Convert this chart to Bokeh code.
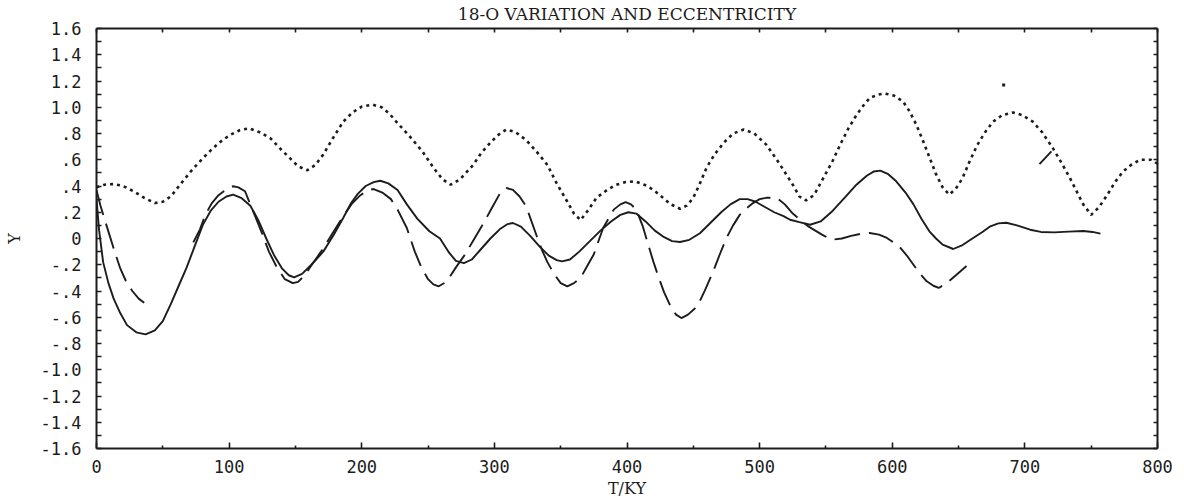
from bokeh.plotting import figure
from bokeh.models import LinearAxis, FixedTicker, Range1d
from bokeh.embed import file_html
from bokeh.resources import INLINE

NAN = float("nan")

title_text = "18-O VARIATION AND ECCENTRICITY"
x_title = "T/KY"
y_title = "Y"

x_tick_values = [0, 100, 200, 300, 400, 500, 600, 700, 800]
x_tick_labels = ["0", "100", "200", "300", "400", "500", "600", "700", "800"]
x_minor_values = [50, 150, 250, 350, 450, 550, 650, 750]
x_all_ticks = [0, 50, 100, 150, 200, 250, 300, 350, 400, 450, 500, 550, 600, 650, 700, 750, 800]

y_tick_values = [-1.6, -1.4, -1.2, -1.0, -0.8, -0.6, -0.4, -0.2, 0.0,
                 0.2, 0.4, 0.6, 0.8, 1.0, 1.2, 1.4, 1.6]
y_tick_labels = ["-1.6", "-1.4", "-1.2", "-1.0", "-.8", "-.6", "-.4", "-.2", "0",
                 ".2", ".4", ".6", ".8", "1.0", "1.2", "1.4", "1.6"]
y_minor_values = [-1.5, -1.3, -1.1, -0.9, -0.7, -0.5, -0.3, -0.1,
                  0.1, 0.3, 0.5, 0.7, 0.9, 1.1, 1.3, 1.5]
y_all_ticks = sorted(y_tick_values + y_minor_values)

# dotted series
dotted_t = [0, 6, 13, 20, 28, 36, 44, 50, 56, 63, 71, 80, 88, 95, 101, 108, 115, 123, 131, 139,
            146, 152, 159, 165, 171, 178, 186, 193, 200, 208, 215, 221, 226, 236, 246, 254, 261,
            267, 274, 284, 290, 297, 303, 309, 316, 324, 332, 340, 347, 355, 360, 365, 371, 377,
            385, 392, 399, 406, 413, 420, 426, 433, 440, 445, 450, 455, 460, 466, 473, 480, 488,
            496, 505, 513, 520, 525, 530, 535, 541, 548, 555, 561, 567, 573, 578, 583, 589, 594,
            601, 608, 613, 618, 623, 628, 633, 638, 643, 648, 653, 658, 664, 670, 676, 683, 691,
            698, 706, 713, 721, 728, 734, 739, 744, 750, 756, 762, 768, 774, 780, 787, 795, 800]
dotted_y = [0.39, 0.41, 0.415, 0.40, 0.36, 0.31, 0.27, 0.28, 0.32, 0.41, 0.51, 0.61, 0.69, 0.75,
            0.79, 0.825, 0.84, 0.81, 0.765, 0.68, 0.61, 0.55, 0.52, 0.56, 0.64, 0.76, 0.89, 0.96,
            1.005, 1.02, 1.0, 0.95, 0.89, 0.78, 0.66, 0.54, 0.45, 0.41, 0.45, 0.56, 0.65, 0.73,
            0.79, 0.83, 0.81, 0.75, 0.66, 0.56, 0.42, 0.28, 0.19, 0.14, 0.22, 0.31, 0.37, 0.41,
            0.43, 0.436, 0.41, 0.37, 0.32, 0.26, 0.227, 0.25, 0.31, 0.42, 0.54, 0.64, 0.73, 0.80,
            0.83, 0.80, 0.715, 0.60, 0.49, 0.41, 0.32, 0.29, 0.33, 0.46, 0.59, 0.72, 0.84, 0.94,
            1.01, 1.07, 1.095, 1.105, 1.09, 1.045, 0.97, 0.87, 0.75, 0.62, 0.49, 0.39, 0.335,
            0.38, 0.46, 0.58, 0.71, 0.81, 0.89, 0.94, 0.96, 0.94, 0.89, 0.81, 0.69, 0.57, 0.46,
            0.36, 0.26, 0.18, 0.24, 0.33, 0.43, 0.51, 0.56, 0.60, 0.60, 0.57]

# solid series
solid_t = [0, 2, 5, 9, 13, 18, 23, 30, 37, 44, 50, 56, 62, 68, 74, 80, 86, 92, 98, 103, 109, 116,
           122, 128, 134, 140, 145, 149, 155, 162, 171, 179, 186, 192, 197, 203, 209, 214, 220,
           227, 234, 242, 251, 259, 266, 271, 277, 283, 290, 297, 304, 310, 314, 320, 327, 334,
           341, 347, 351, 357, 364, 372, 380, 388, 395, 401, 407, 414, 421, 428, 434, 440, 447,
           455, 463, 471, 478, 485, 491, 497, 504, 511, 518, 523, 530, 538, 546, 555, 564, 573,
           581, 586, 591, 597, 603, 610, 616, 622, 628, 633, 638, 646, 653, 661, 668, 674, 680,
           686, 694, 704, 712, 722, 733, 744, 751, 757]
solid_y = [0.30, 0.06, -0.18, -0.34, -0.46, -0.57, -0.66, -0.715, -0.73, -0.70, -0.63, -0.50,
           -0.36, -0.22, -0.06, 0.10, 0.21, 0.28, 0.32, 0.334, 0.31, 0.25, 0.14, 0.0, -0.13,
           -0.23, -0.28, -0.296, -0.27, -0.20, -0.10, 0.03, 0.156, 0.27, 0.34, 0.40, 0.43, 0.44,
           0.42, 0.37, 0.26, 0.15, 0.055, 0.0, -0.11, -0.17, -0.187, -0.16, -0.08, 0.0, 0.07,
           0.11, 0.118, 0.09, 0.02, -0.06, -0.13, -0.165, -0.174, -0.16, -0.10, -0.02, 0.06,
           0.13, 0.18, 0.20, 0.19, 0.13, 0.06, 0.01, -0.02, -0.027, -0.01, 0.04, 0.12, 0.20,
           0.26, 0.30, 0.30, 0.28, 0.24, 0.20, 0.17, 0.143, 0.125, 0.105, 0.13, 0.21, 0.31,
           0.41, 0.48, 0.51, 0.517, 0.49, 0.436, 0.35, 0.26, 0.15, 0.055, 0.0, -0.047, -0.08,
           -0.05, 0.004, 0.05, 0.093, 0.115, 0.12, 0.10, 0.067, 0.05, 0.047, 0.052, 0.057,
           0.05, 0.037]

# dashed series (NaN = gap in the record)
dashed_t = [0, 3, 6, 10, 14, 18, 22, 27, 32, 36, 50,
            73, 78, 82, 87, 92, 96, 100, 103, 107, 112, 118, 124, 130, 136, 142, 148,
            152, 157, 163, 170, 178, 186, 193, 199, 205, 209, 216, 222, 227, 234, 240, 245, 250,
            254, 258, 264, 271, 278, 285, 292, 298, 304, 309, 314, 319, 324, 328, 332, 336, 340,
            345, 350, 355, 360, 365, 370, 375, 382, 390, 395, 399, 403, 407, 412, 416, 420, 424,
            428, 433, 437, 441, 446, 453, 459, 465, 470, 475, 480, 485, 490, 495, 500, 505, 513,
            519, 525, 531, 537, 542, 547, 554, 562, 569, 576, 583, 590, 596, 601, 606, 611, 616,
            621, 626, 631, 635, 641, 648, 656, 680,
            711, 720]
dashed_y = [0.37, 0.25, 0.15, 0.02, -0.11, -0.23, -0.32, -0.40, -0.46, -0.49, NAN,
            -0.03, 0.07, 0.18, 0.27, 0.33, 0.36, 0.39, 0.398, 0.39, 0.36, 0.21,
            0.06, -0.10, -0.22, -0.31, -0.34, -0.33, -0.28, -0.19, -0.09, 0.04, 0.17, 0.27, 0.33,
            0.37, 0.377, 0.347, 0.30, 0.22, 0.08, -0.10, -0.22, -0.31, -0.35, -0.364, -0.33,
            -0.22, -0.12, 0.0, 0.12, 0.23, 0.34, 0.385, 0.37, 0.32, 0.245, 0.13, 0.017, -0.09,
            -0.18, -0.27, -0.34, -0.364, -0.34, -0.30, -0.21, -0.12, 0.08, 0.22, 0.26, 0.278,
            0.26, 0.22, 0.09, -0.047, -0.18, -0.30, -0.41, -0.52, -0.58, -0.606, -0.58, -0.517,
            -0.39, -0.25, -0.12, 0.004, 0.10, 0.18, 0.23, 0.27, 0.30, 0.31, 0.31, 0.26, 0.19,
            0.14, 0.09, 0.06, 0.03, -0.01, 0.0, 0.02, 0.035, 0.042, 0.03, 0.004, -0.03, -0.07,
            -0.13, -0.2, -0.27, -0.326, -0.36, -0.377, -0.34, -0.28, -0.21, NAN,
            0.567, 0.664]

stray_t = [684]
stray_y = [1.17]

INK = "#1c1c1c"
TICK_FONT = "DejaVu Sans Mono"
SERIF = "DejaVu Serif"

p = figure(width=1184, height=502, output_backend="svg", toolbar_location=None,
           x_range=Range1d(0, 800), y_range=Range1d(-1.6, 1.6),
           min_border_left=96, min_border_right=27, min_border_top=28, min_border_bottom=54,
           x_axis_location=None, y_axis_location=None)
p.background_fill_color = "white"
p.border_fill_color = "white"
p.outline_line_color = None
p.grid.visible = False

x_over = dict(zip(x_tick_values, x_tick_labels))
y_over = dict(zip(y_tick_values, y_tick_labels))


def style(ax):
    ax.axis_line_width = 2
    ax.axis_line_color = INK
    ax.major_tick_line_color = INK
    ax.minor_tick_line_color = INK
    ax.major_tick_line_width = 1.6
    ax.minor_tick_line_width = 1.6
    ax.major_tick_out = 0
    ax.minor_tick_out = 0
    ax.major_label_text_font = TICK_FONT
    ax.major_label_text_font_size = "17px"
    ax.major_label_text_color = INK
    ax.axis_label_text_font = SERIF
    ax.axis_label_text_font_size = "16px"
    ax.axis_label_text_font_style = "normal"
    ax.axis_label_text_color = INK


bottom = LinearAxis(ticker=FixedTicker(ticks=x_tick_values, minor_ticks=x_minor_values),
                    major_label_overrides=x_over, axis_label=x_title)
style(bottom)
bottom.major_tick_in = 6
bottom.minor_tick_in = 3
bottom.major_label_standoff = 11
bottom.axis_label_standoff = 3
p.add_layout(bottom, "below")

# top frame edge: ticks only; the chart title is carried as this axis' label
top = LinearAxis(ticker=FixedTicker(ticks=[], minor_ticks=x_all_ticks), axis_label=title_text)
style(top)
top.minor_tick_in = 4
top.major_label_standoff = 0
top.axis_label_standoff = 5
top.axis_label_text_font_size = "17px"
p.add_layout(top, "above")

left = LinearAxis(ticker=FixedTicker(ticks=y_tick_values, minor_ticks=y_minor_values),
                  major_label_overrides=y_over, axis_label=y_title)
style(left)
left.major_tick_in = 5
left.minor_tick_in = 5
left.major_label_standoff = 15
left.axis_label_standoff = 14
p.add_layout(left, "left")

right = LinearAxis(ticker=FixedTicker(ticks=[], minor_ticks=y_all_ticks))
style(right)
right.minor_tick_in = 4
right.major_label_standoff = 0
p.add_layout(right, "right")

p.line(dotted_t, dotted_y, line_color=INK, line_width=2.6, line_dash="3 4")
p.line(solid_t, solid_y, line_color=INK, line_width=1.9)
p.line(dashed_t, dashed_y, line_color=INK, line_width=1.9, line_dash="26 9")
p.scatter(stray_t, stray_y, marker="square", size=3, fill_color=INK, line_color=None)

open("out.html", "w").write(file_html(p, INLINE))
